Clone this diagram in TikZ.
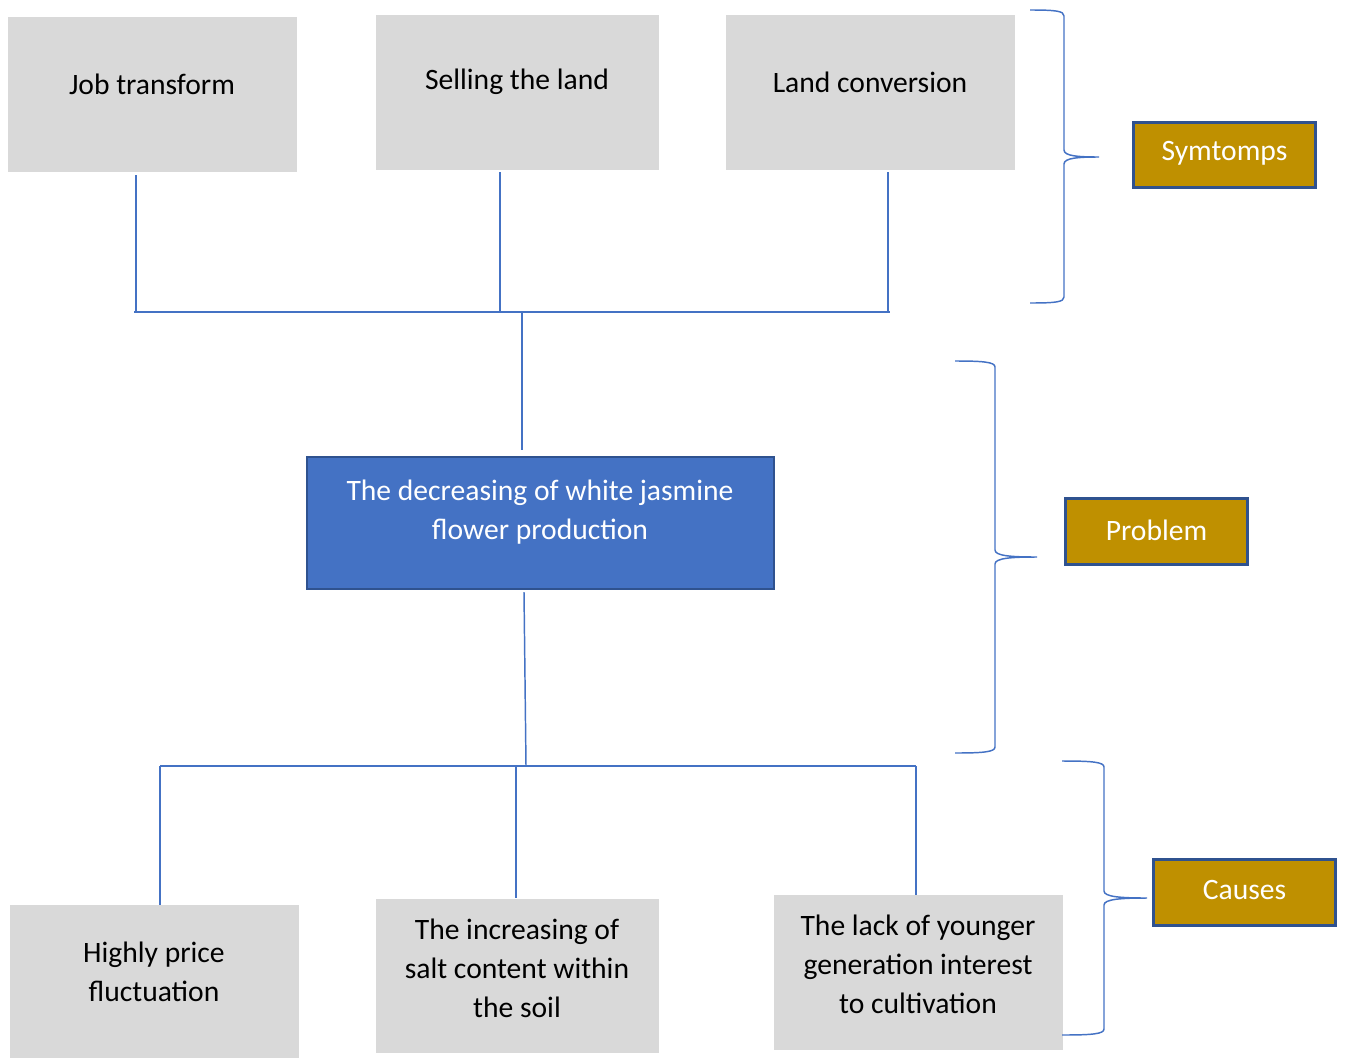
\documentclass[tikz,border=0pt]{standalone}
\usepackage{fontspec}
\setmainfont{Carlito}
\definecolor{boxgray}{HTML}{D9D9D9}
\definecolor{mainblue}{HTML}{4472C4}
\definecolor{darkblue}{HTML}{2F528F}
\definecolor{gold}{HTML}{BF9000}
\tikzset{
  graybox/.style={fill=boxgray, draw=none, anchor=north west, inner sep=0pt},
  txt/.style={align=center, font=\fontsize{22.2}{29.25}\selectfont, text=black, inner sep=0pt},
  wtxt/.style={txt, text=white},
  tagbox/.style={fill=gold, draw=darkblue, line width=2.2pt, anchor=north west, inner sep=0pt, outer sep=0pt},
  conn/.style={draw=mainblue, line width=1.1pt},
  brace/.style={draw=mainblue, line width=1.1pt},
}
\begin{document}
\begin{tikzpicture}[x=0.75pt,y=-0.75pt]
\useasboundingbox (0,0) rectangle (1346,1057);

% top boxes
\node[graybox, minimum width=216.75pt, minimum height=116.25pt] (jt) at (8,17) {};
\node[txt] (jtt) at (152,84) {Job transform};
\node[graybox, minimum width=212.25pt, minimum height=116.25pt] (sl) at (376,15) {};
\node[txt] (slt) at (517,82) {Selling the land};
\node[graybox, minimum width=216.75pt, minimum height=116.25pt] (lc) at (726,15) {};
\node[txt] (lct) at (870,82) {Land conversion};

% main box
\node[fill=mainblue, draw=darkblue, line width=1.6pt, anchor=north west, inner sep=0pt, outer sep=0pt,
      minimum width=350.25pt, minimum height=99pt] (mn) at (307,457) {};
\node[wtxt] (mnt) at (540,512.5) {The decreasing of white jasmine\\flower production};

% bottom boxes
\node[graybox, minimum width=216.75pt, minimum height=117pt] (hp) at (10,905) {};
\node[txt] (hpt) at (154,972) {Highly price\\fluctuation};
\node[graybox, minimum width=212.25pt, minimum height=115.5pt] (sc) at (376,899) {};
\node[txt] (sct) at (517,968.5) {The increasing of\\salt content within\\the soil};
\node[graybox, minimum width=216.75pt, minimum height=116.25pt] (ly) at (774,895) {};
\node[txt] (lyt) at (918,964.5) {The lack of younger\\generation interest\\to cultivation};

% tag boxes
\node[tagbox, minimum width=136.5pt, minimum height=49pt] (sy) at (1133.5,122.5) {};
\node[wtxt] (syt) at (1224.5,153) {Symtomps};
\node[tagbox, minimum width=136.5pt, minimum height=49.5pt] (pr) at (1065.5,498.5) {};
\node[wtxt] (prt) at (1156.5,530) {Problem};
\node[tagbox, minimum width=136.5pt, minimum height=49.5pt] (ca) at (1153.5,859.5) {};
\node[wtxt] (cat) at (1244.5,890) {Causes};

% top tree
\coordinate (a1) at (136,175); \coordinate (a2) at (136,312);
\coordinate (b1) at (500,172); \coordinate (b2) at (500,312);
\coordinate (c1) at (888,172); \coordinate (c2) at (888,312);
\coordinate (hl) at (134,312); \coordinate (hr) at (890,312);
\coordinate (m1) at (522,312); \coordinate (m2) at (522,450);
\draw[conn] (a1) -- (a2);
\draw[conn] (b1) -- (b2);
\draw[conn] (c1) -- (c2);
\draw[conn] (hl) -- (hr);
\draw[conn] (m1) -- (m2);

% bottom tree
\coordinate (n1) at (524,592); \coordinate (n2) at (526,766);
\coordinate (gl) at (160,766); \coordinate (gr) at (916,766);
\coordinate (d2) at (160,905);
\coordinate (e1) at (516,766); \coordinate (e2) at (516,898);
\coordinate (f2) at (916,895);
\draw[conn] (n1) -- (n2);
\draw[conn] (gl) -- (gr);
\draw[conn] (gl) -- (d2);
\draw[conn] (e1) -- (e2);
\draw[conn] (gr) -- (f2);

% braces
\draw[brace] (1030,10) .. controls (1056,10) and (1064,11) .. (1064,16)
  -- (1064,150) .. controls (1064,156) and (1078,157) .. (1099,157)
  .. controls (1078,157) and (1064,158) .. (1064,164)
  -- (1064,297) .. controls (1064,302) and (1056,303) .. (1030,303);
\draw[brace] (955,361) .. controls (983,361) and (995,362) .. (995,367)
  -- (995,550) .. controls (995,556) and (1012,557) .. (1037,557)
  .. controls (1012,557) and (995,558) .. (995,564)
  -- (995,747) .. controls (995,752) and (983,753) .. (955,753);
\draw[brace] (1062,761) .. controls (1092,761) and (1104,762) .. (1104,767)
  -- (1104,891) .. controls (1104,897) and (1122,898) .. (1147,898)
  .. controls (1122,898) and (1104,899) .. (1104,905)
  -- (1104,1029) .. controls (1104,1034) and (1092,1035) .. (1062,1035);
\end{tikzpicture}
\end{document}
